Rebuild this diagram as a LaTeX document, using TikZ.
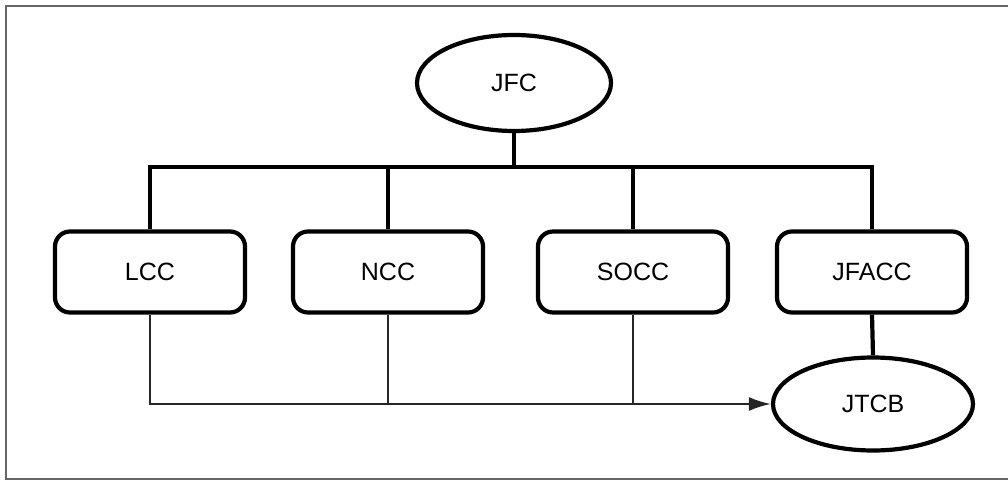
\documentclass[tikz,border=0pt]{standalone}
\usepackage{fontspec}
\setmainfont{Liberation Sans}
\usetikzlibrary{shapes.geometric,arrows.meta}
\begin{document}
\begin{tikzpicture}[x=1pt,y=-1pt,
  thick line/.style={line width=4.2pt},
  thin line/.style={line width=2.2pt, draw=black!85},
  unit/.style={draw, line width=4.2pt, rounded corners=15pt, minimum width=190pt, minimum height=81pt, font=\fontsize{25}{29}\selectfont, inner sep=0pt},
  oval/.style={draw, ellipse, line width=4.2pt, inner sep=0pt, font=\fontsize{25}{29}\selectfont}]
\useasboundingbox (0,0) rectangle (1008,481);
\begin{scope}
\clip (0,0) rectangle (1008,481);
\draw[line width=2.6pt, draw=black!60] (6,6) rectangle (1015,479);
\end{scope}
\node[oval, minimum width=194pt, minimum height=96pt] (jfc) at (514,83) {JFC};
\node[unit] (lcc) at (150,272) {LCC};
\node[unit] (ncc) at (388,272) {NCC};
\node[unit] (socc) at (633,272) {SOCC};
\node[unit] (jfacc) at (872,272) {JFACC};
\node[oval, minimum width=200pt, minimum height=93pt] (jtcb) at (873,404) {JTCB};
\coordinate (bus) at (514,167);
\draw[thick line] (jfc.south) -- (bus);
\draw[thick line] (lcc.north) -- (lcc.north |- bus) -- (jfacc.north |- bus) -- (jfacc.north);
\draw[thick line] (ncc.north) -- (ncc.north |- bus);
\draw[thick line] (socc.north) -- (socc.north |- bus);
\draw[thick line] (jfacc.south) -- (jtcb.north);
\coordinate (corner) at (lcc.south |- jtcb.west);
\draw[thin line, -{Latex[length=22pt,width=14pt]}] (lcc.south) -- (corner) -- (jtcb.west);
\draw[thin line] (ncc.south) -- (ncc.south |- jtcb.west);
\draw[thin line] (socc.south) -- (socc.south |- jtcb.west);
\end{tikzpicture}
\end{document}
